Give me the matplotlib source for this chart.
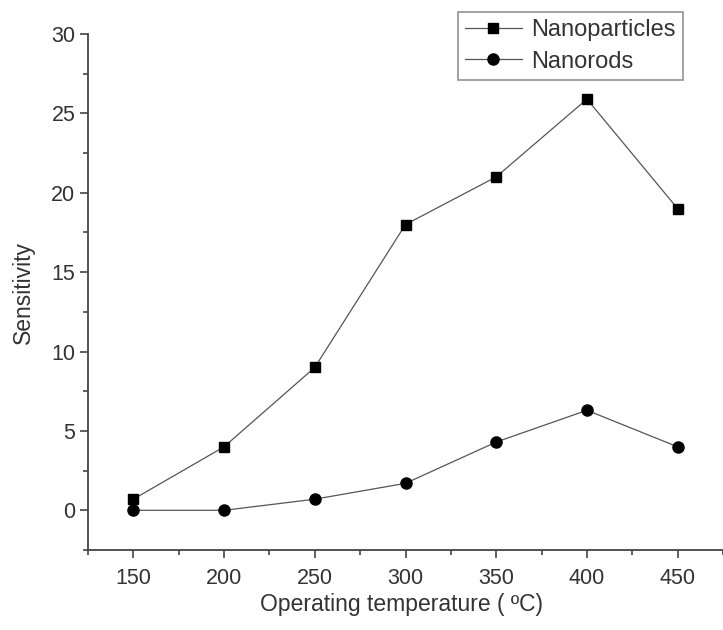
import matplotlib
matplotlib.use("Agg")
import matplotlib.pyplot as plt
from matplotlib.ticker import MultipleLocator

# operating temperature (degC) and measured sensitivity
temperature = [150, 200, 250, 300, 350, 400, 450]
nanoparticles = [0.7, 4.0, 9.0, 18.0, 21.0, 25.9, 19.0]
nanorods = [0.0, 0.0, 0.7, 1.7, 4.3, 6.3, 4.0]

plt.rcParams['font.family'] = ['Liberation Sans', 'DejaVu Sans']
text_color = '#333333'
line_color = '#555555'

fig = plt.figure(figsize=(7.23, 6.30), dpi=100)
ax = fig.add_axes([88 / 723, 1 - 550 / 630, 1 - 88 / 723, (550 - 34) / 630])

ax.plot(temperature, nanoparticles, color=line_color, linewidth=0.9,
        marker='s', markersize=7.2, markerfacecolor='black',
        markeredgecolor='black', label='Nanoparticles')
ax.plot(temperature, nanorods, color=line_color, linewidth=0.9,
        marker='o', markersize=8, markerfacecolor='black',
        markeredgecolor='black', label='Nanorods')

ax.set_xlim(125, 475)
ax.set_ylim(-2.5, 30)
ax.set_xticks(temperature)
ax.xaxis.set_minor_locator(MultipleLocator(25))
ax.yaxis.set_major_locator(MultipleLocator(5))
ax.yaxis.set_minor_locator(MultipleLocator(2.5))

for side in ('top', 'right'):
    ax.spines[side].set_visible(False)
for side in ('left', 'bottom'):
    ax.spines[side].set_linewidth(1.3)
    ax.spines[side].set_color('#444444')

ax.tick_params(which='major', direction='out', length=6, width=1.2,
               color='#444444', labelsize=15.5, labelcolor=text_color)
ax.tick_params(which='minor', direction='out', length=3.5, width=1.2,
               color='#444444')
ax.tick_params(axis='x', which='major', pad=7)
ax.tick_params(axis='y', which='major', pad=3)

ax.set_xlabel('Operating temperature ( \u00baC)', fontsize=16.5,
              color=text_color)
ax.set_ylabel('Sensitivity', fontsize=16.5, color=text_color)
ax.xaxis.set_label_coords(402 / 723, 1 - 605 / 630, transform=fig.transFigure)
ax.yaxis.set_label_coords(23 / 723, 1 - 293 / 630, transform=fig.transFigure)
ax.xaxis.label.set_verticalalignment('center')
ax.yaxis.label.set_verticalalignment('center')

leg = ax.legend(loc='upper left', bbox_to_anchor=(458 / 723, 1 - 12 / 630),
                bbox_transform=fig.transFigure, fontsize=17, frameon=True,
                fancybox=False, handlelength=2.4, handletextpad=0.4,
                borderpad=0.3, labelspacing=0.4, borderaxespad=0)
leg.get_frame().set_edgecolor('#777777')
leg.get_frame().set_linewidth(1.2)
for t in leg.get_texts():
    t.set_color(text_color)

fig.savefig('out.png', dpi=100)
